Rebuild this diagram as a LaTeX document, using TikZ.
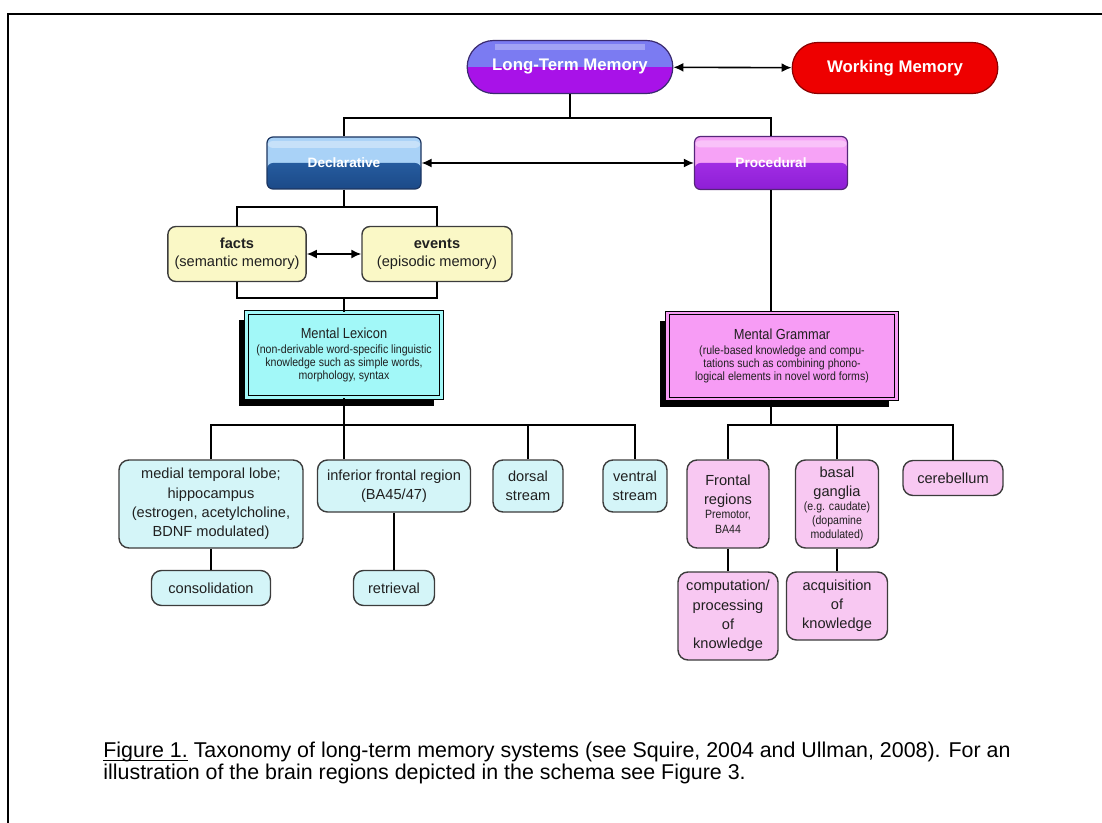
\documentclass[tikz,border=0pt]{standalone}
\usepackage{fontspec}
\setmainfont{Liberation Sans}
\newfontfamily\narrowfont[FakeStretch=0.88]{Liberation Sans}
\usetikzlibrary{arrows.meta,shapes.misc,shadows}

\definecolor{ltmtop}{HTML}{7B7BF2}
\definecolor{ltmbot}{HTML}{A812E8}
\definecolor{ltmline}{HTML}{3A2A70}
\definecolor{wmred}{HTML}{EE0000}
\definecolor{wmline}{HTML}{8A0000}
\definecolor{decltop}{HTML}{A9D2F7}
\definecolor{declbot}{HTML}{2F6DB5}
\definecolor{decldark}{HTML}{1C4A88}
\definecolor{declline}{HTML}{1C3560}
\definecolor{proctop}{HTML}{F6A2F6}
\definecolor{procbot}{HTML}{B23CF0}
\definecolor{procdark}{HTML}{8E1ED6}
\definecolor{procline}{HTML}{55257A}
\definecolor{factfill}{HTML}{FAF8C6}
\definecolor{lexfill}{HTML}{A2F8F8}
\definecolor{gramfill}{HTML}{F79CF5}
\definecolor{cyanfill}{HTML}{D4F5F8}
\definecolor{pinkfill}{HTML}{F8C8F2}
\definecolor{boxline}{HTML}{3C3C3C}
\definecolor{boxtext}{HTML}{202020}

\newcommand{\detail}{\narrowfont\fontsize{6}{6.4}\selectfont}
\newcommand{\lextitle}{\fontsize{7.3}{9}\selectfont}
\newcommand{\figuline}[1]{\setbox0\hbox{#1}\rlap{\rule[-1.8pt]{\wd0}{0.5pt}}\box0\relax}

\tikzset{
  link/.style={draw=black, line width=0.7pt},
  twoway/.style={{Latex[length=5pt,width=4.5pt]}-{Latex[length=5pt,width=4.5pt]}, line width=0.8pt},
  ltmbox/.style={rounded rectangle, draw=ltmline, line width=0.6pt, fill=ltmtop,
    minimum width=109.5pt, minimum height=26.5pt, text=white,
    font=\bfseries\fontsize{8.4}{10}\selectfont,
    path picture={
      \fill[ltmbot] (path picture bounding box.west) rectangle (path picture bounding box.south east);
      \fill[white,opacity=.3] ([xshift=14pt,yshift=-2pt]path picture bounding box.north west)
        rectangle ([xshift=-14pt,yshift=-5pt]path picture bounding box.north east);}},
  wmbox/.style={rounded rectangle, draw=wmline, line width=0.6pt, fill=wmred,
    minimum width=109.5pt, minimum height=25.5pt, text=white,
    font=\bfseries\fontsize{8.4}{10}\selectfont},
  declbox/.style={rectangle, rounded corners=3pt, draw=declline, line width=0.6pt, fill=decltop,
    minimum width=77pt, minimum height=26pt, text=white,
    font=\bfseries\fontsize{6.8}{8}\selectfont,
    path picture={
      \shade[top color=declbot, bottom color=decldark] (path picture bounding box.west)
        rectangle (path picture bounding box.south east);
      \fill[white,opacity=.35] ([yshift=-2pt]path picture bounding box.north west)
        rectangle ([yshift=-5.5pt]path picture bounding box.north east);}},
  procbox/.style={rectangle, rounded corners=3pt, draw=procline, line width=0.6pt, fill=proctop,
    minimum width=76.5pt, minimum height=26.5pt, text=white,
    font=\bfseries\fontsize{6.8}{8}\selectfont,
    path picture={
      \shade[top color=procbot, bottom color=procdark] (path picture bounding box.west)
        rectangle (path picture bounding box.south east);
      \fill[white,opacity=.35] ([yshift=-2pt]path picture bounding box.north west)
        rectangle ([yshift=-5.5pt]path picture bounding box.north east);}},
  factbox/.style={rectangle, rounded corners=4pt, draw=boxline, line width=0.7pt, fill=factfill,
    minimum width=67.5pt, minimum height=27.5pt, align=center, text=boxtext,
    font=\fontsize{7.3}{9}\selectfont},
  lexbox/.style={rectangle, draw=black, line width=0.5pt, double=lexfill, double distance=1.4pt,
    fill=lexfill, minimum width=97.5pt, minimum height=42.5pt, align=center, text=boxtext,
    inner sep=1pt, font=\detail,
    drop shadow={shadow xshift=-4pt, shadow yshift=-4pt, fill=black, opacity=1}},
  grambox/.style={lexbox, double=gramfill, fill=gramfill, minimum width=114.5pt, minimum height=43pt},
  cyanbox/.style={rectangle, rounded corners=5pt, draw=boxline, line width=0.7pt, fill=cyanfill,
    align=center, text=boxtext, inner sep=1pt, font=\fontsize{7.3}{9.6}\selectfont},
  pinkbox/.style={cyanbox, fill=pinkfill},
  capt/.style={font=\fontsize{10.7}{12}\selectfont, inner sep=0pt}
}

\begin{document}
\begin{tikzpicture}[x=0.5pt,y=-0.5pt]
  \useasboundingbox (0,0) rectangle (1102,823);
  % frame
  \draw[line width=1.4pt] (1102,14) -- (8,14) -- (8,823);

  % top level
  \node[ltmbox] (ltm) at (570,67) {Long-Term Memory};
  \node[wmbox] (wm) at (895,68) {Working Memory};
  \draw[link,twoway] (ltm) -- (wm);

  \node[declbox] (decl) at (344,163) {Declarative};
  \node[procbox] (proc) at (771,163) {Procedural};
  \coordinate (j1) at (570,118);
  \draw[link] (ltm.south) -- (j1);
  \draw[link] (decl.north) |- (j1) -| (proc.north);
  \draw[link,twoway] (decl) -- (proc);

  % declarative side
  \node[factbox] (facts) at (237,254) {\textbf{facts}\\(semantic memory)};
  \node[factbox, minimum width=75pt] (events) at (437,254) {\textbf{events}\\(episodic memory)};
  \coordinate (j2) at (344,207);
  \draw[link] (decl.south) -- (j2);
  \draw[link] (facts.north) |- (j2) -| (events.north);
  \draw[link,twoway] (facts) -- (events);

  \node[lexbox] (ml) at (344,355) {{\lextitle Mental Lexicon}\\[1pt]
    (non-derivable word-specific linguistic\\
    knowledge such as simple words,\\
    morphology, syntax};
  \coordinate (j3) at (344,298);
  \draw[link] (facts.south) |- (j3) -| (events.south);
  \draw[link] (j3) -- (ml.north);

  \node[cyanbox, minimum width=92pt, minimum height=44pt] (mtl) at (211,504)
    {medial temporal lobe;\\hippocampus\\(estrogen, acetylcholine,\\BDNF modulated)};
  \node[cyanbox, minimum width=76.5pt, minimum height=26pt] (inf) at (394,486)
    {inferior frontal region\\(BA45/47)};
  \node[cyanbox, minimum width=35pt, minimum height=26pt] (dors) at (528,486) {dorsal\\stream};
  \node[cyanbox, minimum width=32pt, minimum height=26pt] (vent) at (635,486) {ventral\\stream};
  \node[cyanbox, minimum width=59.5pt, minimum height=17.5pt] (cons) at (211,588) {consolidation};
  \node[cyanbox, minimum width=40.5pt, minimum height=17.5pt] (retr) at (394,588) {retrieval};
  \coordinate (j4) at (344,425);
  \draw[link] (ml.south) -- (ml.south |- inf.north);
  \draw[link] (mtl.north) |- (j4) -| (vent.north);
  \draw[link] (dors.north) -- (dors.north |- j4);
  \draw[link] (mtl.south) -- (cons.north);
  \draw[link] (inf.south) -- (retr.north);

  % procedural side
  \node[grambox] (mg) at (782,356) {{\lextitle Mental Grammar}\\[1pt]
    (rule-based knowledge and compu-\\
    tations such as combining phono-\\
    logical elements in novel word forms)};
  \draw[link] (proc.south) -- (proc.south |- mg.north);

  \node[pinkbox, minimum width=41pt, minimum height=44pt] (front) at (728,504)
    {Frontal\\regions\\[-2.5pt]{\detail Premotor,}\\[-2.5pt]{\detail BA44}};
  \node[pinkbox, minimum width=41.5pt, minimum height=44pt] (basal) at (837,504)
    {basal\\ganglia\\[-2.5pt]{\detail (e.g. caudate)}\\[-2.5pt]{\detail (dopamine}\\[-2.5pt]{\detail modulated)}};
  \node[pinkbox, minimum width=50pt, minimum height=17.5pt] (cereb) at (953,478) {cerebellum};
  \node[pinkbox, minimum width=50pt, minimum height=44pt] (comp) at (728,616)
    {computation/\\processing\\of\\knowledge};
  \node[pinkbox, minimum width=50.5pt, minimum height=34pt] (acq) at (837,606)
    {acquisition\\of\\knowledge};
  \coordinate (j5) at (771,425);
  \draw[link] (proc.south |- mg.south) -- (j5);
  \draw[link] (front.north) |- (j5) -| (cereb.north);
  \draw[link] (basal.north) -- (basal.north |- j5);
  \draw[link] (front.south) -- (comp.north);
  \draw[link] (basal.south) -- (acq.north);

  % caption
  \node[capt, anchor=base west] (cap1) at (103,757)
    {\figuline{Figure 1.} Taxonomy of long-term memory systems (see Squire, 2004 and Ullman, 2008). For an};
  \node[capt, anchor=base west] (cap2) at (103,779)
    {illustration of the brain regions depicted in the schema see Figure 3.};
\end{tikzpicture}
\end{document}
